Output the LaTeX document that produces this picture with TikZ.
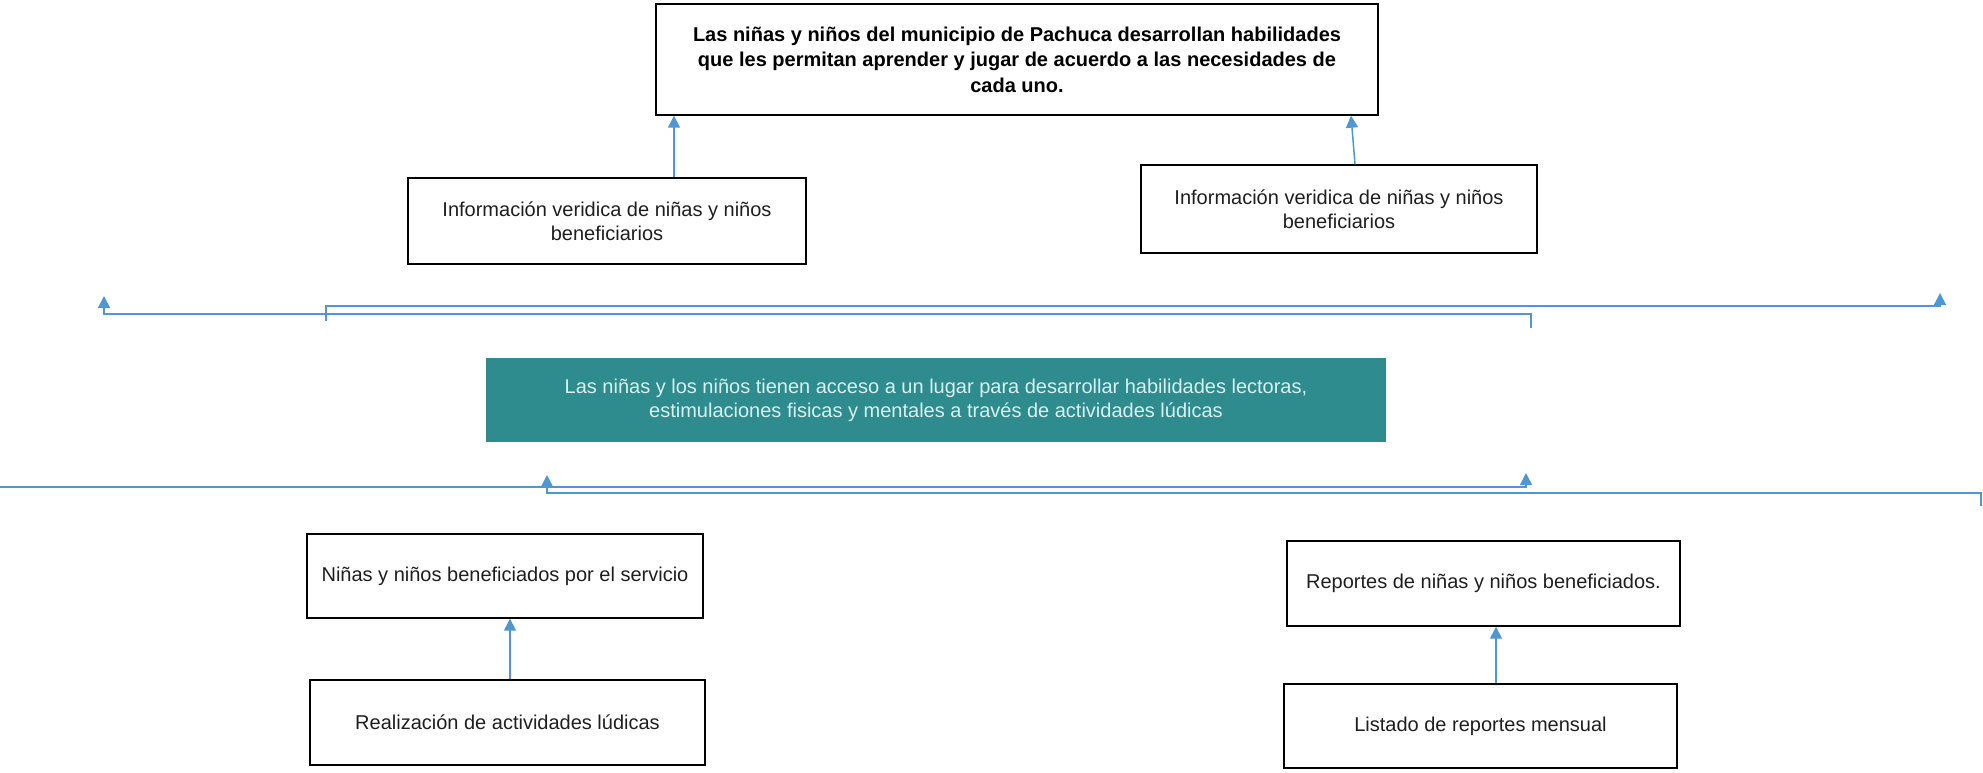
\documentclass[tikz,border=0pt]{standalone}
\usepackage{fontspec}
\setmainfont{Liberation Sans}
\usetikzlibrary{arrows.meta}
\definecolor{tealbox}{RGB}{46,139,142}
\definecolor{tealtext}{RGB}{215,240,240}
\definecolor{conn}{RGB}{79,151,210}
\begin{document}
\begin{tikzpicture}[x=1pt,y=-1pt,
  box/.style={draw=black, line width=1.4pt, fill=white, align=center, inner sep=0pt,
    font=\fontsize{20}{24}\selectfont, text=black!88},
  tealnode/.style={fill=tealbox, draw=none, align=center, inner sep=0pt,
    font=\fontsize{20}{24}\selectfont, text=tealtext},
  arr/.style={draw=conn, line width=1.5pt, -{Triangle[width=12pt,length=12pt]}},
  wire/.style={draw=conn, line width=1.5pt}]
\useasboundingbox (0,0) rectangle (1983,772);

% boxes
\node[box, minimum width=722pt, minimum height=111pt, font=\fontsize{20}{25.5}\selectfont\bfseries, text=black]
  (top) at (1017,59.5) {Las niñas y niños del municipio de Pachuca desarrollan habilidades\\que les permitan aprender y jugar de acuerdo a las necesidades de\\cada uno.};
\node[box, minimum width=398pt, minimum height=86pt] (infoL) at (607,221)
  {Información veridica de niñas y niños\\beneficiarios};
\node[box, minimum width=396pt, minimum height=88pt] (infoR) at (1339,209)
  {Información veridica de niñas y niños\\beneficiarios};
\node[tealnode, minimum width=900pt, minimum height=84pt] (mid) at (936,400)
  {Las niñas y los niños tienen acceso a un lugar para desarrollar habilidades lectoras,\\estimulaciones fisicas y mentales a través de actividades lúdicas};
\node[box, minimum width=396pt, minimum height=84pt] (benef) at (505,576)
  {Niñas y niños beneficiados por el servicio};
\node[box, minimum width=393pt, minimum height=85pt] (report) at (1483.5,583.5)
  {Reportes de niñas y niños beneficiados.};
\node[box, minimum width=395pt, minimum height=85pt] (activ) at (507.5,722.5)
  {Realización de actividades lúdicas};
\node[box, minimum width=393pt, minimum height=84pt] (listado) at (1480.5,726)
  {Listado de reportes mensual};

% vertical arrows
\draw[arr] (674,0 |- infoL.north) -- (674,0 |- top.south);
\draw[arr] (1355,0 |- infoR.north) -- (1351,0 |- top.south);
\draw[arr] (510,0 |- activ.north) -- (510,0 |- benef.south);
\draw[arr] (1496,0 |- listado.north) -- (1496,0 |- report.south);

% upper bracket connectors
\coordinate (a0) at (326,321);
\coordinate (a1) at (1940,293);
\draw[arr] (a0) -- (326,306) -- (1940,306) -- (a1);
\coordinate (b0) at (1531,328);
\coordinate (b1) at (104,296);
\draw[arr] (b0) -- (1531,314) -- (104,314) -- (b1);

% lower bracket connectors
\coordinate (c0) at (1981,506);
\coordinate (c1) at (547,475);
\draw[arr] (c0) -- (1981,493) -- (547,493) -- (c1);
\coordinate (d0) at (0,487);
\coordinate (d1) at (1526,473);
\draw[arr] (d0) -- (1526,487) -- (d1);
\end{tikzpicture}
\end{document}
